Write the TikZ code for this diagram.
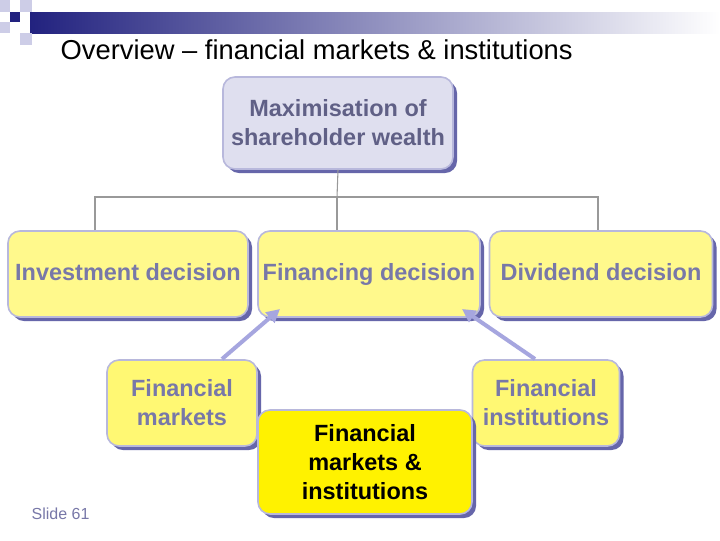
\documentclass[tikz,border=0pt]{standalone}
\usepackage{fontspec}
\setmainfont{Liberation Sans}
\usetikzlibrary{shadows,arrows.meta}
\definecolor{navy}{HTML}{22227F}
\definecolor{lav}{HTML}{B8B8DC}
\definecolor{shad}{HTML}{6666AA}
\definecolor{txtb}{HTML}{7878A8}
\begin{document}
\begin{tikzpicture}[x=0.75pt,y=-0.75pt,
  box/.style={draw=lav,line width=1.2pt,rounded corners=9pt,
    drop shadow={shadow xshift=3pt,shadow yshift=-3pt,fill=shad,opacity=1},
    align=center,font=\bfseries\fontsize{17.6}{21.7}\selectfont,text=txtb,inner sep=0pt},
  conn/.style={draw=gray!80,line width=0.8pt},
  arr/.style={draw=lav!90!blue,line width=3pt,-{Triangle[length=10pt,width=10pt]}}]
\useasboundingbox (0,0) rectangle (720,540);
\fill[white] (0,0) rectangle (720,540);
% header
\shade[left color=navy,right color=white] (30,12) rectangle (720,33);
\fill[lav!70] (0,0) rectangle (10,12);
\fill[lav!70] (20,0) rectangle (32,12);
\fill[lav!70] (0,22) rectangle (10,33);
\fill[lav!70] (20,33) rectangle (32,45);
\fill[navy] (10,12) rectangle (20,22);
\node[anchor=west,font=\fontsize{20.5}{22}\selectfont] (title) at (56,50) {Overview -- financial markets \& institutions};
% boxes
\node[box,fill=lav!45,text=txtb!80!black,minimum width=230pt*0.75,minimum height=92pt*0.75] (top) at (338,123) {Maximisation of\\shareholder wealth};
\node[box,fill=yellow!45,text height=12pt,text depth=3pt,minimum width=240*0.75pt,minimum height=86*0.75pt] (inv) at (128,274) {Investment decision};
\node[box,fill=yellow!45,text height=12pt,text depth=3pt,minimum width=222*0.75pt,minimum height=86*0.75pt] (fin) at (369,274) {Financing decision};
\node[box,fill=yellow!45,text height=12pt,text depth=3pt,minimum width=223*0.75pt,minimum height=86*0.75pt] (div) at (601,274) {Dividend decision};
\node[box,fill=yellow!55,minimum width=150*0.75pt,minimum height=86*0.75pt] (fm) at (182,403) {Financial\\markets};
\node[box,fill=yellow!55,minimum width=147*0.75pt,minimum height=86*0.75pt] (fi) at (546,403) {Financial\\institutions};
\node[box,fill=yellow,text=black,minimum width=214*0.75pt,minimum height=104*0.75pt] (fmi) at (365,462) {Financial\\markets \&\\institutions};
% connectors
\coordinate (j) at (337,197);
\draw[conn] (top.south) -- (j);
\draw[conn] (inv.north -| 95,0) -- (95,197) -- (598,197) -- (div.north -| 598,0);
\draw[conn] (j) -- (fin.north -| 337,0);
\coordinate (a1) at (222,359);
\coordinate (a2) at (535,359);
\draw[arr] (a1) -- (280,309);
\draw[arr] (a2) -- (462,309);
\node[anchor=west,text=txtb,font=\fontsize{12}{14}\selectfont] (slide) at (27,514) {Slide 61};
\end{tikzpicture}
\end{document}
